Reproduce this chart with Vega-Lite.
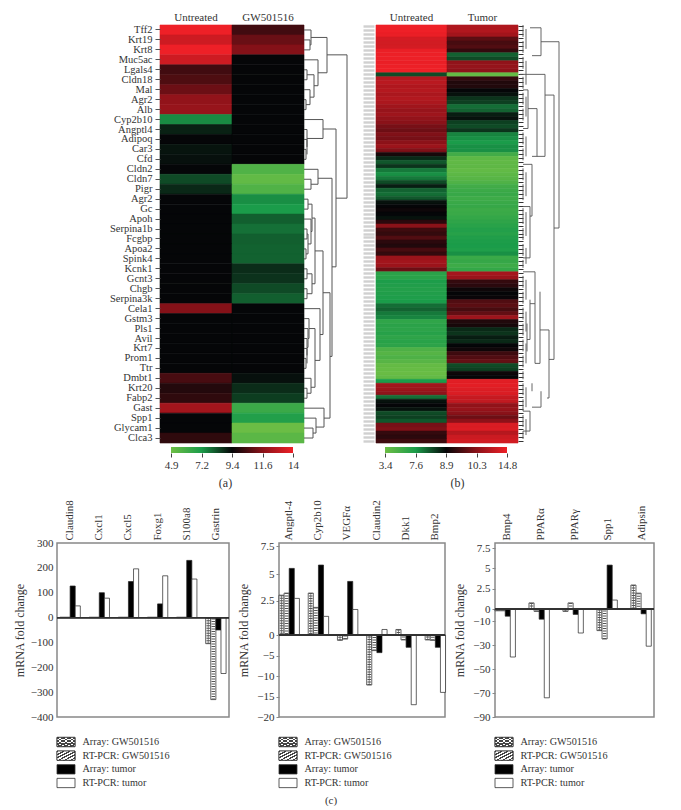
{"$schema":"https://vega.github.io/schema/vega-lite/v6.json","padding":{"left":0,"top":11,"right":0,"bottom":0},"background":"white",
"config":{"view":{"stroke":null},"axis":{"labelFont":"Liberation Serif","titleFont":"Liberation Serif","labelColor":"#333","titleColor":"#333","labelFontSize":11,"titleFontSize":12,"titleFontWeight":"normal","grid":false,"labelOverlap":false},"title":{"font":"Liberation Serif","fontSize":11,"fontWeight":"normal","color":"#333"}},
"datasets":{
"heatA":[
{"g":"Tff2","c":"Untreated","v":14},{"g":"Tff2","c":"GW501516","v":10.4},{"g":"Krt19","c":"Untreated","v":13.2},{"g":"Krt19","c":"GW501516","v":11.05},{"g":"Krt8","c":"Untreated","v":14},{"g":"Krt8","c":"GW501516","v":11.5},{"g":"Muc5ac","c":"Untreated","v":13.2},{"g":"Muc5ac","c":"GW501516","v":9.4},{"g":"Lgals4","c":"Untreated","v":10.4},{"g":"Lgals4","c":"GW501516","v":9.4},{"g":"Cldn18","c":"Untreated","v":10.6},{"g":"Cldn18","c":"GW501516","v":9.4},{"g":"Mal","c":"Untreated","v":11.1},{"g":"Mal","c":"GW501516","v":9.4},{"g":"Agr2","c":"Untreated","v":11.8},{"g":"Agr2","c":"GW501516","v":9.4},{"g":"Alb","c":"Untreated","v":11.9},{"g":"Alb","c":"GW501516","v":9.4},{"g":"Cyp2b10","c":"Untreated","v":7.45},{"g":"Cyp2b10","c":"GW501516","v":9.4},{"g":"Angptl4","c":"Untreated","v":9},{"g":"Angptl4","c":"GW501516","v":9.4},{"g":"Adipoq","c":"Untreated","v":9.4},{"g":"Adipoq","c":"GW501516","v":9.4},{"g":"Car3","c":"Untreated","v":9.2},{"g":"Car3","c":"GW501516","v":9.4},{"g":"Cfd","c":"Untreated","v":9.25},{"g":"Cfd","c":"GW501516","v":9.4},{"g":"Cldn2","c":"Untreated","v":9.4},{"g":"Cldn2","c":"GW501516","v":5.7},{"g":"Cldn7","c":"Untreated","v":8.4},{"g":"Cldn7","c":"GW501516","v":5.2},{"g":"Pigr","c":"Untreated","v":8.9},{"g":"Pigr","c":"GW501516","v":5.7},{"g":"Agr2 ","c":"Untreated","v":9.4},{"g":"Agr2 ","c":"GW501516","v":7.4},{"g":"Gc","c":"Untreated","v":9.4},{"g":"Gc","c":"GW501516","v":7.2},{"g":"Apoh","c":"Untreated","v":9.4},{"g":"Apoh","c":"GW501516","v":8.1},{"g":"Serpina1b","c":"Untreated","v":9.4},{"g":"Serpina1b","c":"GW501516","v":7.85},{"g":"Fcgbp","c":"Untreated","v":9.4},{"g":"Fcgbp","c":"GW501516","v":8.1},{"g":"Apoa2","c":"Untreated","v":9.4},{"g":"Apoa2","c":"GW501516","v":8.05},{"g":"Spink4","c":"Untreated","v":9.4},{"g":"Spink4","c":"GW501516","v":8.05},{"g":"Kcnk1","c":"Untreated","v":9.4},{"g":"Kcnk1","c":"GW501516","v":8.85},{"g":"Gcnt3","c":"Untreated","v":9.4},{"g":"Gcnt3","c":"GW501516","v":8.75},{"g":"Chgb","c":"Untreated","v":9.4},{"g":"Chgb","c":"GW501516","v":8.4},{"g":"Serpina3k","c":"Untreated","v":9.4},{"g":"Serpina3k","c":"GW501516","v":8.1},{"g":"Cela1","c":"Untreated","v":11.5},{"g":"Cela1","c":"GW501516","v":9.4},{"g":"Gstm3","c":"Untreated","v":9.4},{"g":"Gstm3","c":"GW501516","v":9.4},{"g":"Pls1","c":"Untreated","v":9.4},{"g":"Pls1","c":"GW501516","v":9.4},{"g":"Avil","c":"Untreated","v":9.4},{"g":"Avil","c":"GW501516","v":9.4},{"g":"Krt7","c":"Untreated","v":9.4},{"g":"Krt7","c":"GW501516","v":9.4},{"g":"Prom1","c":"Untreated","v":9.4},{"g":"Prom1","c":"GW501516","v":9.4},{"g":"Ttr","c":"Untreated","v":9.4},{"g":"Ttr","c":"GW501516","v":9.4},{"g":"Dmbt1","c":"Untreated","v":10.5},{"g":"Dmbt1","c":"GW501516","v":9.25},{"g":"Krt20","c":"Untreated","v":9.9},{"g":"Krt20","c":"GW501516","v":8.85},{"g":"Fabp2","c":"Untreated","v":10.1},{"g":"Fabp2","c":"GW501516","v":8.6},{"g":"Gast","c":"Untreated","v":12.2},{"g":"Gast","c":"GW501516","v":6.3},{"g":"Spp1","c":"Untreated","v":9.4},{"g":"Spp1","c":"GW501516","v":7},{"g":"Glycam1","c":"Untreated","v":9.4},{"g":"Glycam1","c":"GW501516","v":4.95},{"g":"Clca3","c":"Untreated","v":10.1},{"g":"Clca3","c":"GW501516","v":5.4}],
"heatB":[
{"r":0,"c":"Untreated","v":14.8},{"r":0,"c":"Tumor","v":11.9},{"r":1,"c":"Untreated","v":14.8},{"r":1,"c":"Tumor","v":12},{"r":2,"c":"Untreated","v":14.6},{"r":2,"c":"Tumor","v":11.4},{"r":3,"c":"Untreated","v":13.6},{"r":3,"c":"Tumor","v":9.8},{"r":4,"c":"Untreated","v":13.5},{"r":4,"c":"Tumor","v":9.6},{"r":5,"c":"Untreated","v":13.6},{"r":5,"c":"Tumor","v":9.7},{"r":6,"c":"Untreated","v":14.6},{"r":6,"c":"Tumor","v":9.4},{"r":7,"c":"Untreated","v":14.7},{"r":7,"c":"Tumor","v":8.1},{"r":8,"c":"Untreated","v":14.7},{"r":8,"c":"Tumor","v":8.3},{"r":9,"c":"Untreated","v":14.6},{"r":9,"c":"Tumor","v":10.6},
{"r":10,"c":"Untreated","v":14.7},{"r":10,"c":"Tumor","v":10.8},{"r":11,"c":"Untreated","v":14.8},{"r":11,"c":"Tumor","v":10.5},{"r":12,"c":"Untreated","v":8.3},{"r":12,"c":"Tumor","v":3.8},{"r":13,"c":"Untreated","v":12.2},{"r":13,"c":"Tumor","v":9.4},{"r":14,"c":"Untreated","v":12.4},{"r":14,"c":"Tumor","v":9.2},{"r":15,"c":"Untreated","v":12},{"r":15,"c":"Tumor","v":9.2},{"r":16,"c":"Untreated","v":12.2},{"r":16,"c":"Tumor","v":8.9},{"r":17,"c":"Untreated","v":11.8},{"r":17,"c":"Tumor","v":8.8},{"r":18,"c":"Untreated","v":12.1},{"r":18,"c":"Tumor","v":8.5},{"r":19,"c":"Untreated","v":11.8},{"r":19,"c":"Tumor","v":8.4},
{"r":20,"c":"Untreated","v":11.3},{"r":20,"c":"Tumor","v":8},{"r":21,"c":"Untreated","v":10.9},{"r":21,"c":"Tumor","v":8.1},{"r":22,"c":"Untreated","v":11.2},{"r":22,"c":"Tumor","v":8.7},{"r":23,"c":"Untreated","v":10.7},{"r":23,"c":"Tumor","v":8.8},{"r":24,"c":"Untreated","v":10.3},{"r":24,"c":"Tumor","v":8.4},{"r":25,"c":"Untreated","v":10.1},{"r":25,"c":"Tumor","v":8.3},{"r":26,"c":"Untreated","v":10},{"r":26,"c":"Tumor","v":8.5},{"r":27,"c":"Untreated","v":10.2},{"r":27,"c":"Tumor","v":7.8},{"r":28,"c":"Untreated","v":10.1},{"r":28,"c":"Tumor","v":7.7},{"r":29,"c":"Untreated","v":10.4},{"r":29,"c":"Tumor","v":7.6},
{"r":30,"c":"Untreated","v":11.1},{"r":30,"c":"Tumor","v":7.7},{"r":31,"c":"Untreated","v":10.2},{"r":31,"c":"Tumor","v":7.7},{"r":32,"c":"Untreated","v":9.1},{"r":32,"c":"Tumor","v":5.6},{"r":33,"c":"Untreated","v":8.6},{"r":33,"c":"Tumor","v":4.2},{"r":34,"c":"Untreated","v":8.2},{"r":34,"c":"Tumor","v":4},{"r":35,"c":"Untreated","v":8.5},{"r":35,"c":"Tumor","v":4.1},{"r":36,"c":"Untreated","v":7.9},{"r":36,"c":"Tumor","v":3.9},{"r":37,"c":"Untreated","v":7.7},{"r":37,"c":"Tumor","v":4.2},{"r":38,"c":"Untreated","v":7.9},{"r":38,"c":"Tumor","v":4.5},{"r":39,"c":"Untreated","v":8.3},{"r":39,"c":"Tumor","v":4.9},
{"r":40,"c":"Untreated","v":8.7},{"r":40,"c":"Tumor","v":5.6},{"r":41,"c":"Untreated","v":8.1},{"r":41,"c":"Tumor","v":5.9},{"r":42,"c":"Untreated","v":8},{"r":42,"c":"Tumor","v":6.1},{"r":43,"c":"Untreated","v":8.2},{"r":43,"c":"Tumor","v":5.8},{"r":44,"c":"Untreated","v":8.8},{"r":44,"c":"Tumor","v":6},{"r":45,"c":"Untreated","v":8.9},{"r":45,"c":"Tumor","v":6.2},{"r":46,"c":"Untreated","v":9},{"r":46,"c":"Tumor","v":5.9},{"r":47,"c":"Untreated","v":8.9},{"r":47,"c":"Tumor","v":6},{"r":48,"c":"Untreated","v":8.8},{"r":48,"c":"Tumor","v":6.3},{"r":49,"c":"Untreated","v":9.3},{"r":49,"c":"Tumor","v":6.6},
{"r":50,"c":"Untreated","v":10.3},{"r":50,"c":"Tumor","v":6.9},{"r":51,"c":"Untreated","v":9.5},{"r":51,"c":"Tumor","v":7.2},{"r":52,"c":"Untreated","v":9.4},{"r":52,"c":"Tumor","v":7},{"r":53,"c":"Untreated","v":9.7},{"r":53,"c":"Tumor","v":7.3},{"r":54,"c":"Untreated","v":9.3},{"r":54,"c":"Tumor","v":7.5},{"r":55,"c":"Untreated","v":9.2},{"r":55,"c":"Tumor","v":7.6},{"r":56,"c":"Untreated","v":9.6},{"r":56,"c":"Tumor","v":7.4},{"r":57,"c":"Untreated","v":9.4},{"r":57,"c":"Tumor","v":7.7},{"r":58,"c":"Untreated","v":11},{"r":58,"c":"Tumor","v":6},{"r":59,"c":"Untreated","v":11.4},{"r":59,"c":"Tumor","v":6.2},
{"r":60,"c":"Untreated","v":11.1},{"r":60,"c":"Tumor","v":5.8},{"r":61,"c":"Untreated","v":10},{"r":61,"c":"Tumor","v":6.3},{"r":62,"c":"Untreated","v":6.8},{"r":62,"c":"Tumor","v":11.5},{"r":63,"c":"Untreated","v":6.9},{"r":63,"c":"Tumor","v":11},{"r":64,"c":"Untreated","v":7.5},{"r":64,"c":"Tumor","v":9.4},{"r":65,"c":"Untreated","v":7.3},{"r":65,"c":"Tumor","v":9.3},{"r":66,"c":"Untreated","v":7.2},{"r":66,"c":"Tumor","v":9},{"r":67,"c":"Untreated","v":7.3},{"r":67,"c":"Tumor","v":8.9},{"r":68,"c":"Untreated","v":7.4},{"r":68,"c":"Tumor","v":8.95},{"r":69,"c":"Untreated","v":7.6},{"r":69,"c":"Tumor","v":9.7},
{"r":70,"c":"Untreated","v":8},{"r":70,"c":"Tumor","v":9.8},{"r":71,"c":"Untreated","v":8.1},{"r":71,"c":"Tumor","v":9.6},{"r":72,"c":"Untreated","v":7.9},{"r":72,"c":"Tumor","v":9.9},{"r":73,"c":"Untreated","v":7.8},{"r":73,"c":"Tumor","v":11.2},{"r":74,"c":"Untreated","v":6.5},{"r":74,"c":"Tumor","v":9.2},{"r":75,"c":"Untreated","v":6.8},{"r":75,"c":"Tumor","v":9.1},{"r":76,"c":"Untreated","v":6.7},{"r":76,"c":"Tumor","v":8.6},{"r":77,"c":"Untreated","v":7},{"r":77,"c":"Tumor","v":8.5},{"r":78,"c":"Untreated","v":6.6},{"r":78,"c":"Tumor","v":8.7},{"r":79,"c":"Untreated","v":6.9},{"r":79,"c":"Tumor","v":8.6},
{"r":80,"c":"Untreated","v":6.7},{"r":80,"c":"Tumor","v":8.9},{"r":81,"c":"Untreated","v":5},{"r":81,"c":"Tumor","v":9},{"r":82,"c":"Untreated","v":4.6},{"r":82,"c":"Tumor","v":9.5},{"r":83,"c":"Untreated","v":5},{"r":83,"c":"Tumor","v":9.7},{"r":84,"c":"Untreated","v":4.5},{"r":84,"c":"Tumor","v":9.9},{"r":85,"c":"Untreated","v":3.8},{"r":85,"c":"Tumor","v":8.3},{"r":86,"c":"Untreated","v":3.7},{"r":86,"c":"Tumor","v":8.4},{"r":87,"c":"Untreated","v":3.6},{"r":87,"c":"Tumor","v":9},{"r":88,"c":"Untreated","v":3.9},{"r":88,"c":"Tumor","v":8.9},{"r":89,"c":"Untreated","v":7.6},{"r":89,"c":"Tumor","v":14.2},
{"r":90,"c":"Untreated","v":11.3},{"r":90,"c":"Tumor","v":14.3},{"r":91,"c":"Untreated","v":11.1},{"r":91,"c":"Tumor","v":14},{"r":92,"c":"Untreated","v":10.5},{"r":92,"c":"Tumor","v":13.9},{"r":93,"c":"Untreated","v":8},{"r":93,"c":"Tumor","v":13},{"r":94,"c":"Untreated","v":8.8},{"r":94,"c":"Tumor","v":12.8},{"r":95,"c":"Untreated","v":8.9},{"r":95,"c":"Tumor","v":10.6},{"r":96,"c":"Untreated","v":8.8},{"r":96,"c":"Tumor","v":10.9},{"r":97,"c":"Untreated","v":8.3},{"r":97,"c":"Tumor","v":10.3},{"r":98,"c":"Untreated","v":8.4},{"r":98,"c":"Tumor","v":10},{"r":99,"c":"Untreated","v":8.2},{"r":99,"c":"Tumor","v":10.4},
{"r":100,"c":"Untreated","v":10.1},{"r":100,"c":"Tumor","v":13.8},{"r":101,"c":"Untreated","v":10.2},{"r":101,"c":"Tumor","v":13.9},{"r":102,"c":"Untreated","v":9.4},{"r":102,"c":"Tumor","v":12.3},{"r":103,"c":"Untreated","v":9.3},{"r":103,"c":"Tumor","v":13.2},{"r":104,"c":"Untreated","v":9.5},{"r":104,"c":"Tumor","v":13.5}],
"dendA":[
{"x0":0,"x1":6,"y0":1.5,"y1":1.5},{"x0":0,"x1":6,"y0":2.5,"y1":2.5},{"x0":6,"x1":6,"y0":1.5,"y1":2.5},{"x0":0,"x1":7,"y0":0.5,"y1":0.5},{"x0":6,"x1":7,"y0":2,"y1":2},{"x0":7,"x1":7,"y0":0.5,"y1":2},{"x0":0,"x1":3,"y0":4.5,"y1":4.5},{"x0":0,"x1":3,"y0":5.5,"y1":5.5},{"x0":3,"x1":3,"y0":4.5,"y1":5.5},{"x0":0,"x1":2,"y0":7.5,"y1":7.5},{"x0":0,"x1":2,"y0":8.5,"y1":8.5},{"x0":2,"x1":2,"y0":7.5,"y1":8.5},{"x0":0,"x1":6,"y0":6.5,"y1":6.5},{"x0":2,"x1":6,"y0":8,"y1":8},{"x0":6,"x1":6,"y0":6.5,"y1":8},{"x0":3,"x1":10,"y0":5,"y1":5},{"x0":6,"x1":10,"y0":7.25,"y1":7.25},{"x0":10,"x1":10,"y0":5,"y1":7.25},{"x0":0,"x1":14,"y0":3.5,"y1":3.5},{"x0":10,"x1":14,"y0":6.1,"y1":6.1},{"x0":14,"x1":14,"y0":3.5,"y1":6.1},{"x0":7,"x1":23,"y0":1.25,"y1":1.25},{"x0":14,"x1":23,"y0":4.8,"y1":4.8},{"x0":23,"x1":23,"y0":1.25,"y1":4.8},
{"x0":0,"x1":2,"y0":12.5,"y1":12.5},{"x0":0,"x1":2,"y0":13.5,"y1":13.5},{"x0":2,"x1":2,"y0":12.5,"y1":13.5},{"x0":0,"x1":3,"y0":11.5,"y1":11.5},{"x0":3,"x1":3,"y0":11.5,"y1":13},{"x0":0,"x1":3,"y0":10.5,"y1":10.5},{"x0":3,"x1":3,"y0":10.5,"y1":12.25},{"x0":0,"x1":19,"y0":9.5,"y1":9.5},{"x0":3,"x1":19,"y0":11.4,"y1":11.4},{"x0":19,"x1":19,"y0":9.5,"y1":11.4},
{"x0":23,"x1":43,"y0":3,"y1":3},{"x0":32,"x1":43,"y0":17.4,"y1":17.4},{"x0":43,"x1":43,"y0":3,"y1":17.4},{"x0":19,"x1":32,"y0":10.45,"y1":10.45},{"x0":28,"x1":32,"y0":24.3,"y1":24.3},{"x0":32,"x1":32,"y0":10.45,"y1":24.3},
{"x0":0,"x1":7,"y0":15.5,"y1":15.5},{"x0":0,"x1":7,"y0":16.5,"y1":16.5},{"x0":7,"x1":7,"y0":15.5,"y1":16.5},{"x0":0,"x1":14,"y0":14.5,"y1":14.5},{"x0":7,"x1":14,"y0":16,"y1":16},{"x0":14,"x1":14,"y0":14.5,"y1":16},{"x0":14,"x1":28,"y0":15.4,"y1":15.4},{"x0":26,"x1":28,"y0":33.3,"y1":33.3},{"x0":28,"x1":28,"y0":15.4,"y1":33.3},
{"x0":0,"x1":4,"y0":17.5,"y1":17.5},{"x0":0,"x1":4,"y0":18.5,"y1":18.5},{"x0":4,"x1":4,"y0":17.5,"y1":18.5},{"x0":0,"x1":3,"y0":20.5,"y1":20.5},{"x0":0,"x1":3,"y0":21.5,"y1":21.5},{"x0":3,"x1":3,"y0":20.5,"y1":21.5},{"x0":0,"x1":2,"y0":22.5,"y1":22.5},{"x0":0,"x1":2,"y0":23.5,"y1":23.5},{"x0":2,"x1":2,"y0":22.5,"y1":23.5},{"x0":3,"x1":4,"y0":21,"y1":21},{"x0":2,"x1":4,"y0":23,"y1":23},{"x0":4,"x1":4,"y0":21,"y1":23},{"x0":0,"x1":7,"y0":19.5,"y1":19.5},{"x0":4,"x1":7,"y0":22,"y1":22},{"x0":7,"x1":7,"y0":19.5,"y1":22},{"x0":4,"x1":8,"y0":18,"y1":18},{"x0":7,"x1":8,"y0":20.75,"y1":20.75},{"x0":8,"x1":8,"y0":18,"y1":20.75},
{"x0":0,"x1":3,"y0":24.5,"y1":24.5},{"x0":0,"x1":3,"y0":25.5,"y1":25.5},{"x0":3,"x1":3,"y0":24.5,"y1":25.5},{"x0":0,"x1":3,"y0":26.5,"y1":26.5},{"x0":0,"x1":3,"y0":27.5,"y1":27.5},{"x0":3,"x1":3,"y0":26.5,"y1":27.5},{"x0":3,"x1":8,"y0":25,"y1":25},{"x0":3,"x1":8,"y0":27,"y1":27},{"x0":8,"x1":8,"y0":25,"y1":27},{"x0":8,"x1":11,"y0":19.4,"y1":19.4},{"x0":8,"x1":11,"y0":26,"y1":26},{"x0":11,"x1":11,"y0":19.4,"y1":26},{"x0":11,"x1":19,"y0":22.7,"y1":22.7},{"x0":16,"x1":19,"y0":31.1,"y1":31.1},{"x0":19,"x1":26,"y0":26.9,"y1":26.9},{"x0":19,"x1":19,"y0":22.7,"y1":31.1},{"x0":26,"x1":26,"y0":26.9,"y1":39.5},
{"x0":0,"x1":16,"y0":28.5,"y1":28.5},{"x0":11,"x1":16,"y0":33.7,"y1":33.7},{"x0":16,"x1":16,"y0":28.5,"y1":33.7},{"x0":0,"x1":2,"y0":33.5,"y1":33.5},{"x0":0,"x1":2,"y0":34.5,"y1":34.5},{"x0":2,"x1":2,"y0":33.5,"y1":34.5},{"x0":0,"x1":3,"y0":32.5,"y1":32.5},{"x0":3,"x1":3,"y0":32.5,"y1":34},{"x0":0,"x1":3,"y0":31.5,"y1":31.5},{"x0":3,"x1":3,"y0":31.5,"y1":33.2},{"x0":0,"x1":4,"y0":30.5,"y1":30.5},{"x0":3,"x1":4,"y0":32.4,"y1":32.4},{"x0":4,"x1":4,"y0":30.5,"y1":32.4},{"x0":0,"x1":5,"y0":29.5,"y1":29.5},{"x0":4,"x1":5,"y0":31.5,"y1":31.5},{"x0":5,"x1":5,"y0":29.5,"y1":31.5},{"x0":5,"x1":11,"y0":30.5,"y1":30.5},{"x0":7,"x1":11,"y0":36.4,"y1":36.4},{"x0":11,"x1":11,"y0":30.5,"y1":36.4},
{"x0":0,"x1":3,"y0":36.5,"y1":36.5},{"x0":0,"x1":3,"y0":37.5,"y1":37.5},{"x0":3,"x1":3,"y0":36.5,"y1":37.5},{"x0":0,"x1":7,"y0":35.5,"y1":35.5},{"x0":3,"x1":7,"y0":37,"y1":37},{"x0":7,"x1":7,"y0":35.5,"y1":37},{"x0":0,"x1":9,"y0":40.5,"y1":40.5},{"x0":0,"x1":9,"y0":41.5,"y1":41.5},{"x0":9,"x1":9,"y0":40.5,"y1":41.5},{"x0":0,"x1":12,"y0":39.5,"y1":39.5},{"x0":9,"x1":12,"y0":41,"y1":41},{"x0":12,"x1":12,"y0":39.5,"y1":41},{"x0":0,"x1":20,"y0":38.5,"y1":38.5},{"x0":12,"x1":20,"y0":40.4,"y1":40.4},{"x0":20,"x1":20,"y0":38.5,"y1":40.4},{"x0":20,"x1":26,"y0":39.5,"y1":39.5}],
"dendB":[
{"x0":12,"x1":23,"y0":0.7,"y1":0.7},{"x0":14,"x1":23,"y0":7.7,"y1":7.7},{"x0":23,"x1":23,"y0":0.7,"y1":7.7},{"x0":23,"x1":41,"y0":4.2,"y1":4.2},{"x0":36,"x1":41,"y0":51,"y1":51},{"x0":41,"x1":41,"y0":4.2,"y1":51},{"x0":36,"x1":36,"y0":17.6,"y1":84},{"x0":27,"x1":36,"y0":17.6,"y1":17.6},{"x0":31,"x1":36,"y0":84,"y1":84},{"x0":27,"x1":27,"y0":12.4,"y1":33},{"x0":2,"x1":27,"y0":12.4,"y1":12.4},{"x0":19,"x1":27,"y0":33,"y1":33},{"x0":19,"x1":19,"y0":21,"y1":33},{"x0":10,"x1":19,"y0":21,"y1":21},{"x0":14,"x1":19,"y0":33,"y1":33},{"x0":10,"x1":10,"y0":16.3,"y1":26},{"x0":5,"x1":10,"y0":16.3,"y1":16.3},{"x0":5,"x1":10,"y0":26,"y1":26},{"x0":14,"x1":14,"y0":35,"y1":48},{"x0":5,"x1":14,"y0":35,"y1":35},{"x0":12,"x1":14,"y0":48,"y1":48},{"x0":12,"x1":12,"y0":45.6,"y1":58.5},{"x0":5,"x1":12,"y0":45.6,"y1":45.6},{"x0":5,"x1":12,"y0":58.5,"y1":58.5},{"x0":31,"x1":31,"y0":76.6,"y1":93.7},{"x0":22,"x1":31,"y0":76.6,"y1":76.6},{"x0":29,"x1":31,"y0":93.7,"y1":93.7},{"x0":22,"x1":22,"y0":67,"y1":85},{"x0":17,"x1":22,"y0":85,"y1":85},{"x0":17,"x1":17,"y0":62,"y1":85},{"x0":5,"x1":17,"y0":62,"y1":62},{"x0":12,"x1":17,"y0":70,"y1":70},{"x0":12,"x1":12,"y0":69,"y1":79},{"x0":9,"x1":12,"y0":79,"y1":79},{"x0":9,"x1":9,"y0":75,"y1":82},{"x0":23,"x1":23,"y0":92,"y1":96},{"x0":14,"x1":23,"y0":96,"y1":96},{"x0":14,"x1":14,"y0":90,"y1":92},{"x0":12,"x1":12,"y0":97,"y1":102},{"x0":5,"x1":12,"y0":97,"y1":97},{"x0":5,"x1":12,"y0":102,"y1":102},
{"x0":5,"x1":5,"y0":0,"y1":3},{"x0":5,"x1":5,"y0":4,"y1":7},{"x0":5,"x1":5,"y0":8,"y1":11},{"x0":5,"x1":5,"y0":13,"y1":16},{"x0":5,"x1":5,"y0":17,"y1":20},{"x0":5,"x1":5,"y0":21,"y1":24},{"x0":5,"x1":5,"y0":27,"y1":30},{"x0":5,"x1":5,"y0":31,"y1":34},{"x0":5,"x1":5,"y0":36,"y1":39},{"x0":5,"x1":5,"y0":40,"y1":44},{"x0":5,"x1":5,"y0":46,"y1":50},{"x0":5,"x1":5,"y0":51,"y1":54},{"x0":5,"x1":5,"y0":55,"y1":58},{"x0":5,"x1":5,"y0":59,"y1":61},{"x0":5,"x1":5,"y0":63,"y1":66},{"x0":5,"x1":5,"y0":67,"y1":70},{"x0":5,"x1":5,"y0":71,"y1":74},{"x0":5,"x1":5,"y0":75,"y1":78},{"x0":5,"x1":5,"y0":79,"y1":82},{"x0":5,"x1":5,"y0":83,"y1":86},{"x0":5,"x1":5,"y0":87,"y1":89},{"x0":5,"x1":5,"y0":90,"y1":93},{"x0":5,"x1":5,"y0":94,"y1":97},{"x0":5,"x1":5,"y0":98,"y1":101},{"x0":5,"x1":5,"y0":102,"y1":104},
{"x0":8,"x1":8,"y0":1,"y1":6},{"x0":8,"x1":8,"y0":9,"y1":15},{"x0":8,"x1":8,"y0":18,"y1":23},{"x0":8,"x1":8,"y0":28,"y1":33},{"x0":8,"x1":8,"y0":37,"y1":43},{"x0":8,"x1":8,"y0":47,"y1":53},{"x0":8,"x1":8,"y0":56,"y1":60},{"x0":8,"x1":8,"y0":64,"y1":69},{"x0":8,"x1":8,"y0":72,"y1":77},{"x0":8,"x1":8,"y0":80,"y1":85},{"x0":8,"x1":8,"y0":91,"y1":96},{"x0":8,"x1":8,"y0":99,"y1":103}],
"stripA":[{"lo":4.9,"hi":14}],"stripB":[{"lo":3.4,"hi":14.8}],
"keys":[{"series":"Array: GW501516"},{"series":"RT-PCR: GW501516"},{"series":"Array: tumor"},{"series":"RT-PCR: tumor"}],
"bars1":[
{"gene":"Claudin8","series":"Array: GW501516","v":1.5},{"gene":"Claudin8","series":"RT-PCR: GW501516","v":1.5},{"gene":"Claudin8","series":"Array: tumor","v":127},{"gene":"Claudin8","series":"RT-PCR: tumor","v":47},
{"gene":"Cxcl1","series":"Array: GW501516","v":1.5},{"gene":"Cxcl1","series":"RT-PCR: GW501516","v":1.5},{"gene":"Cxcl1","series":"Array: tumor","v":100},{"gene":"Cxcl1","series":"RT-PCR: tumor","v":78},
{"gene":"Cxcl5","series":"Array: GW501516","v":1.5},{"gene":"Cxcl5","series":"RT-PCR: GW501516","v":1.5},{"gene":"Cxcl5","series":"Array: tumor","v":145},{"gene":"Cxcl5","series":"RT-PCR: tumor","v":196},
{"gene":"Foxg1","series":"Array: GW501516","v":1.5},{"gene":"Foxg1","series":"RT-PCR: GW501516","v":1.5},{"gene":"Foxg1","series":"Array: tumor","v":55},{"gene":"Foxg1","series":"RT-PCR: tumor","v":168},
{"gene":"S100a8","series":"Array: GW501516","v":1.5},{"gene":"S100a8","series":"RT-PCR: GW501516","v":1.5},{"gene":"S100a8","series":"Array: tumor","v":230},{"gene":"S100a8","series":"RT-PCR: tumor","v":155},
{"gene":"Gastrin","series":"Array: GW501516","v":-105},{"gene":"Gastrin","series":"RT-PCR: GW501516","v":-330},{"gene":"Gastrin","series":"Array: tumor","v":-50},{"gene":"Gastrin","series":"RT-PCR: tumor","v":-225}],
"bars2":[
{"gene":"Angptl-4","series":"Array: GW501516","v":3},{"gene":"Angptl-4","series":"RT-PCR: GW501516","v":3.2},{"gene":"Angptl-4","series":"Array: tumor","v":5.5},{"gene":"Angptl-4","series":"RT-PCR: tumor","v":2.7},
{"gene":"Cyp2b10","series":"Array: GW501516","v":3.2},{"gene":"Cyp2b10","series":"RT-PCR: GW501516","v":2},{"gene":"Cyp2b10","series":"Array: tumor","v":5.8},{"gene":"Cyp2b10","series":"RT-PCR: tumor","v":1.35},
{"gene":"VEGFα","series":"Array: GW501516","v":-1.3},{"gene":"VEGFα","series":"RT-PCR: GW501516","v":-1},{"gene":"VEGFα","series":"Array: tumor","v":4.3},{"gene":"VEGFα","series":"RT-PCR: tumor","v":1.85},
{"gene":"Claudin2","series":"Array: GW501516","v":-12.2},{"gene":"Claudin2","series":"RT-PCR: GW501516","v":-3.8},{"gene":"Claudin2","series":"Array: tumor","v":-4.3},{"gene":"Claudin2","series":"RT-PCR: tumor","v":0.4},
{"gene":"Dkk1","series":"Array: GW501516","v":0.4},{"gene":"Dkk1","series":"RT-PCR: GW501516","v":-1.2},{"gene":"Dkk1","series":"Array: tumor","v":-3},{"gene":"Dkk1","series":"RT-PCR: tumor","v":-17},
{"gene":"Bmp2","series":"Array: GW501516","v":-1.2},{"gene":"Bmp2","series":"RT-PCR: GW501516","v":-1.3},{"gene":"Bmp2","series":"Array: tumor","v":-3},{"gene":"Bmp2","series":"RT-PCR: tumor","v":-14}],
"bars3":[
{"gene":"Bmp4","series":"Array: GW501516","v":-1.5},{"gene":"Bmp4","series":"RT-PCR: GW501516","v":-1.5},{"gene":"Bmp4","series":"Array: tumor","v":-6},{"gene":"Bmp4","series":"RT-PCR: tumor","v":-40},
{"gene":"PPARα","series":"Array: GW501516","v":0.75},{"gene":"PPARα","series":"RT-PCR: GW501516","v":-2},{"gene":"PPARα","series":"Array: tumor","v":-8.5},{"gene":"PPARα","series":"RT-PCR: tumor","v":-74},
{"gene":"PPARγ","series":"Array: GW501516","v":-2},{"gene":"PPARγ","series":"RT-PCR: GW501516","v":0.75},{"gene":"PPARγ","series":"Array: tumor","v":-4.5},{"gene":"PPARγ","series":"RT-PCR: tumor","v":-20},
{"gene":"Spp1","series":"Array: GW501516","v":-18},{"gene":"Spp1","series":"RT-PCR: GW501516","v":-25},{"gene":"Spp1","series":"Array: tumor","v":5.4},{"gene":"Spp1","series":"RT-PCR: tumor","v":1.1},
{"gene":"Adipsin","series":"Array: GW501516","v":2.95},{"gene":"Adipsin","series":"RT-PCR: GW501516","v":1.95},{"gene":"Adipsin","series":"Array: tumor","v":-4},{"gene":"Adipsin","series":"RT-PCR: tumor","v":-31}]
},
"spacing":10,
"resolve":{"scale":{"color":"independent","stroke":"independent"}},
"vconcat":[
{"columns":5,"bounds":"flush","spacing":{"row":4,"column":0},"resolve":{"scale":{"color":"independent","stroke":"independent"}},"concat":[
{"width":160,"height":418,"data":{"name":"keys"},"mark":{"type":"point","opacity":0},"encoding":{}},
{"width":144,"height":418,"data":{"name":"heatA"},"mark":{"type":"rect","strokeWidth":0.6},"encoding":{
"x":{"field":"c","type":"nominal","sort":null,"scale":{"domain":["Untreated","GW501516"]},"axis":{"orient":"top","title":null,"labelAngle":0,"ticks":false,"domain":false,"labelPadding":3}},
"y":{"field":"g","type":"nominal","sort":null,"axis":{"title":null,"domain":false,"tickSize":5,"tickColor":"#555","labelPadding":3,"labelFontSize":10.5}},
"color":{"field":"v","type":"quantitative","legend":null,"scale":{"interpolate":"rgb","domain":[4.9,7.2,9.4,11.6,14],"range":["#6dbe45","#1b9c4a","#050608","#8a1219","#ee2027"]}},
"stroke":{"field":"v","type":"quantitative","legend":null,"scale":{"interpolate":"rgb","domain":[4.9,7.2,9.4,11.6,14],"range":["#6dbe45","#1b9c4a","#050608","#8a1219","#ee2027"]}}}},
{"width":72,"height":418,"data":{"name":"dendA"},"mark":{"type":"rule","color":"#555","strokeWidth":1},"encoding":{
"x":{"field":"x0","type":"quantitative","axis":null,"scale":{"domain":[0,72],"nice":false}},"x2":{"field":"x1"},
"y":{"field":"y0","type":"quantitative","axis":null,"scale":{"domain":[0,42],"reverse":true,"nice":false}},"y2":{"field":"y1"}}},
{"width":142,"height":418,"data":{"name":"heatB"},"resolve":{"axis":{"y":"independent"}},"layer":[
{"mark":{"type":"rect","strokeWidth":0.6},"encoding":{
"x":{"field":"c","type":"nominal","sort":null,"scale":{"domain":["Untreated","Tumor"]},"axis":{"orient":"top","title":null,"labelAngle":0,"ticks":false,"domain":false,"labelPadding":3}},
"y":{"field":"r","type":"ordinal","axis":{"title":null,"labels":false,"domain":false,"tickSize":11,"tickWidth":2.4,"tickColor":"#d0d0d0","offset":2}},
"color":{"field":"v","type":"quantitative","legend":null,"scale":{"interpolate":"rgb","domain":[3.4,7.6,8.9,10.3,14.8],"range":["#6dbe45","#1b9c4a","#050608","#8a1219","#ee2027"]}},
"stroke":{"field":"v","type":"quantitative","legend":null,"scale":{"interpolate":"rgb","domain":[3.4,7.6,8.9,10.3,14.8],"range":["#6dbe45","#1b9c4a","#050608","#8a1219","#ee2027"]}}}},
{"mark":{"type":"rect","opacity":0},"encoding":{
"x":{"field":"c","type":"nominal","sort":null,"scale":{"domain":["Untreated","Tumor"]}},
"y":{"field":"r","type":"ordinal","axis":{"orient":"right","title":null,"labels":false,"domain":false,"tickSize":5,"tickWidth":1,"tickColor":"#333"}}}}]},
{"width":42,"height":418,"data":{"name":"dendB"},"mark":{"type":"rule","color":"#555","strokeWidth":0.9},"encoding":{
"x":{"field":"x0","type":"quantitative","axis":null,"scale":{"domain":[0,42],"nice":false}},"x2":{"field":"x1"},
"y":{"field":"y0","type":"quantitative","axis":null,"scale":{"domain":[0,105],"reverse":true,"nice":false}},"y2":{"field":"y1"}}},
{"width":160,"height":6,"data":{"name":"keys"},"mark":{"type":"point","opacity":0},"encoding":{}},
{"width":144,"height":6,"data":{"name":"stripA"},"mark":{"type":"rect","color":{"gradient":"linear","x1":0,"y1":0,"x2":1,"y2":0,"stops":[{"offset":0,"color":"#6dbe45"},{"offset":0.25,"color":"#1b9c4a"},{"offset":0.5,"color":"#050608"},{"offset":0.75,"color":"#8a1219"},{"offset":1,"color":"#ee2027"}]}},"encoding":{
"x":{"field":"lo","type":"quantitative","scale":{"domain":[4.9,7.2,9.4,11.6,14],"range":[11,41.5,72,102.5,133],"zero":false,"nice":false},"axis":{"values":[4.9,7.2,9.4,11.6,14],"labelExpr":"''+datum.value","labelFlush":false,"title":"(a)","titleX":65,"titleY":24,"domain":false,"tickSize":4,"tickColor":"#444","labelPadding":2}},"x2":{"field":"hi"}}},
{"width":72,"height":6,"data":{"name":"keys"},"mark":{"type":"point","opacity":0},"encoding":{}},
{"width":142,"height":6,"data":{"name":"stripB"},"mark":{"type":"rect","color":{"gradient":"linear","x1":0,"y1":0,"x2":1,"y2":0,"stops":[{"offset":0,"color":"#6dbe45"},{"offset":0.25,"color":"#1b9c4a"},{"offset":0.5,"color":"#050608"},{"offset":0.75,"color":"#8a1219"},{"offset":1,"color":"#ee2027"}]}},"encoding":{
"x":{"field":"lo","type":"quantitative","scale":{"domain":[3.4,7.6,8.9,10.3,14.8],"range":[9,39.5,70,100.5,131],"zero":false,"nice":false},"axis":{"values":[3.4,7.6,8.9,10.3,14.8],"labelExpr":"''+datum.value","labelFlush":false,"title":"(b)","titleX":81,"titleY":24,"domain":false,"tickSize":4,"tickColor":"#444","labelPadding":2}},"x2":{"field":"hi"}}}
]},
{"columns":4,"bounds":"flush","spacing":{"row":19,"column":50},"concat":[
{"width":7,"height":174,"data":{"name":"keys"},"mark":{"type":"point","opacity":0},"encoding":{}},
{"width":172,"height":174,"data":{"name":"bars1"},"view":{"stroke":"#888","strokeWidth":1.5},"resolve":{"axis":{"y":"independent"}},"layer":[
{"mark":{"type":"bar","stroke":"#222","strokeWidth":0.7},"encoding":{
"x":{"field":"gene","type":"nominal","sort":null,"scale":{"paddingInner":0.3,"paddingOuter":0.1},"axis":{"orient":"top","title":null,"labelAngle":-90,"ticks":false,"domain":false,"labelPadding":3}},
"xOffset":{"field":"series","sort":null,"scale":{"domain":["Array: GW501516","RT-PCR: GW501516","Array: tumor","RT-PCR: tumor"]}},
"y":{"field":"v","type":"quantitative","scale":{"domain":[-400,300],"nice":false},"axis":{"values":[-400,-300,-200,-100,0,100,200,300],"labelOverlap":false,"labelExpr":"replace(''+datum.value,'-','−')","title":"mRNA fold change","domain":false,"tickSize":0,"labelPadding":4,"titlePadding":4}},"y2":{"datum":0},
"color":{"field":"series","type":"nominal","legend":null,"scale":{"domain":["Array: GW501516","RT-PCR: GW501516","Array: tumor","RT-PCR: tumor"],"range":["#fff","#fff","#000","#fff"]}}}},
{"transform":[{"filter":"indexof(datum.series,'GW501516')>=0"}],"mark":{"type":"rule","strokeWidth":3.6,"strokeDash":[1,1.5],"color":"#555"},"encoding":{
"x":{"field":"gene","type":"nominal","sort":null,"scale":{"paddingInner":0.3,"paddingOuter":0.1}},
"xOffset":{"field":"series","sort":null,"scale":{"domain":["Array: GW501516","RT-PCR: GW501516","Array: tumor","RT-PCR: tumor"]}},
"y":{"field":"v","type":"quantitative","axis":null,"scale":{"domain":[-400,300],"nice":false}},"y2":{"datum":0}}},
{"transform":[{"filter":"datum.series==='Array: GW501516'"}],"mark":{"type":"rule","strokeWidth":0.7,"color":"#555"},"encoding":{
"x":{"field":"gene","type":"nominal","sort":null,"scale":{"paddingInner":0.3,"paddingOuter":0.1}},
"xOffset":{"field":"series","sort":null,"scale":{"domain":["Array: GW501516","RT-PCR: GW501516","Array: tumor","RT-PCR: tumor"]}},
"y":{"field":"v","type":"quantitative","axis":null,"scale":{"domain":[-400,300],"nice":false}},"y2":{"datum":0}}},
{"mark":{"type":"rule","color":"#333","strokeWidth":1},"encoding":{"y":{"datum":0,"type":"quantitative","axis":null,"scale":{"domain":[-400,300],"nice":false}}}}]},
{"width":166,"height":174,"data":{"name":"bars2"},"view":{"stroke":"#888","strokeWidth":1.5},"resolve":{"axis":{"y":"independent"}},"layer":[
{"mark":{"type":"bar","stroke":"#222","strokeWidth":0.7},"encoding":{
"x":{"field":"gene","type":"nominal","sort":null,"scale":{"paddingInner":0.32,"paddingOuter":0},"axis":{"orient":"top","title":null,"labelAngle":-90,"ticks":false,"domain":false,"labelPadding":3}},
"xOffset":{"field":"series","sort":null,"scale":{"domain":["Array: GW501516","RT-PCR: GW501516","Array: tumor","RT-PCR: tumor"]}},
"y":{"field":"v","type":"quantitative","scale":{"domain":[-20,0,2.5,5,7.5,7.77],"range":[174,92,57.5,31,3,0],"nice":false,"zero":false},"axis":{"values":[-20,-15,-10,-5,0,2.5,5,7.5],"labelOverlap":false,"labelExpr":"replace(''+datum.value,'-','−')","title":"mRNA fold change","domain":false,"tickSize":3,"tickColor":"#888","labelPadding":2,"titlePadding":6}},"y2":{"datum":0},
"color":{"field":"series","type":"nominal","legend":null,"scale":{"domain":["Array: GW501516","RT-PCR: GW501516","Array: tumor","RT-PCR: tumor"],"range":["#fff","#fff","#000","#fff"]}}}},
{"transform":[{"filter":"indexof(datum.series,'GW501516')>=0"}],"mark":{"type":"rule","strokeWidth":3.6,"strokeDash":[1,1.5],"color":"#555"},"encoding":{
"x":{"field":"gene","type":"nominal","sort":null,"scale":{"paddingInner":0.32,"paddingOuter":0}},
"xOffset":{"field":"series","sort":null,"scale":{"domain":["Array: GW501516","RT-PCR: GW501516","Array: tumor","RT-PCR: tumor"]}},
"y":{"field":"v","type":"quantitative","axis":null,"scale":{"domain":[-20,0,2.5,5,7.5,7.77],"range":[174,92,57.5,31,3,0],"nice":false,"zero":false}},"y2":{"datum":0}}},
{"transform":[{"filter":"datum.series==='Array: GW501516'"}],"mark":{"type":"rule","strokeWidth":0.7,"color":"#555"},"encoding":{
"x":{"field":"gene","type":"nominal","sort":null,"scale":{"paddingInner":0.32,"paddingOuter":0}},
"xOffset":{"field":"series","sort":null,"scale":{"domain":["Array: GW501516","RT-PCR: GW501516","Array: tumor","RT-PCR: tumor"]}},
"y":{"field":"v","type":"quantitative","axis":null,"scale":{"domain":[-20,0,2.5,5,7.5,7.77],"range":[174,92,57.5,31,3,0],"nice":false,"zero":false}},"y2":{"datum":0}}},
{"mark":{"type":"rule","color":"#333","strokeWidth":1},"encoding":{"y":{"datum":0,"type":"quantitative","axis":null,"scale":{"domain":[-20,0,2.5,5,7.5,7.77],"range":[174,92,57.5,31,3,0],"nice":false,"zero":false}}}}]},
{"width":159,"height":174,"data":{"name":"bars3"},"view":{"stroke":"#888","strokeWidth":1.5},"resolve":{"axis":{"y":"independent"}},"layer":[
{"mark":{"type":"bar","stroke":"#222","strokeWidth":0.7},"encoding":{
"x":{"field":"gene","type":"nominal","sort":null,"scale":{"paddingInner":0.32,"paddingOuter":0},"axis":{"orient":"top","title":null,"labelAngle":-90,"ticks":false,"domain":false,"labelPadding":3}},
"xOffset":{"field":"series","sort":null,"scale":{"domain":["Array: GW501516","RT-PCR: GW501516","Array: tumor","RT-PCR: tumor"]}},
"y":{"field":"v","type":"quantitative","scale":{"domain":[-90,0,8.12],"range":[174,66,0],"nice":false,"zero":false},"axis":{"values":[-90,-70,-50,-30,-10,0,2.5,5,7.5],"labelOverlap":false,"labelExpr":"replace(''+datum.value,'-','−')","title":"mRNA fold change","domain":false,"tickSize":3,"tickColor":"#888","labelPadding":2,"titlePadding":6}},"y2":{"datum":0},
"color":{"field":"series","type":"nominal","legend":null,"scale":{"domain":["Array: GW501516","RT-PCR: GW501516","Array: tumor","RT-PCR: tumor"],"range":["#fff","#fff","#000","#fff"]}}}},
{"transform":[{"filter":"indexof(datum.series,'GW501516')>=0"}],"mark":{"type":"rule","strokeWidth":3.6,"strokeDash":[1,1.5],"color":"#555"},"encoding":{
"x":{"field":"gene","type":"nominal","sort":null,"scale":{"paddingInner":0.32,"paddingOuter":0}},
"xOffset":{"field":"series","sort":null,"scale":{"domain":["Array: GW501516","RT-PCR: GW501516","Array: tumor","RT-PCR: tumor"]}},
"y":{"field":"v","type":"quantitative","axis":null,"scale":{"domain":[-90,0,8.12],"range":[174,66,0],"nice":false,"zero":false}},"y2":{"datum":0}}},
{"transform":[{"filter":"datum.series==='Array: GW501516'"}],"mark":{"type":"rule","strokeWidth":0.7,"color":"#555"},"encoding":{
"x":{"field":"gene","type":"nominal","sort":null,"scale":{"paddingInner":0.32,"paddingOuter":0}},
"xOffset":{"field":"series","sort":null,"scale":{"domain":["Array: GW501516","RT-PCR: GW501516","Array: tumor","RT-PCR: tumor"]}},
"y":{"field":"v","type":"quantitative","axis":null,"scale":{"domain":[-90,0,8.12],"range":[174,66,0],"nice":false,"zero":false}},"y2":{"datum":0}}},
{"mark":{"type":"rule","color":"#333","strokeWidth":1},"encoding":{"y":{"datum":0,"type":"quantitative","axis":null,"scale":{"domain":[-90,0,8.12],"range":[174,66,0],"nice":false,"zero":false}}}}]},
{"width":7,"height":53,"data":{"name":"keys"},"mark":{"type":"point","opacity":0},"encoding":{}},
{"width":18,"height":53,"data":{"name":"keys"},"layer":[
{"mark":{"type":"rect","stroke":"#333","strokeWidth":0.8},"encoding":{
"y":{"field":"series","type":"nominal","sort":null,"scale":{"paddingInner":0.32,"paddingOuter":0.1},"axis":{"orient":"right","title":null,"ticks":false,"domain":false,"labelPadding":7,"labelFontSize":10.2}},
"color":{"field":"series","type":"nominal","legend":null,"scale":{"domain":["Array: GW501516","RT-PCR: GW501516","Array: tumor","RT-PCR: tumor"],"range":["#fff","#fff","#000","#fff"]}}}},
{"transform":[{"filter":"indexof(datum.series,'GW501516')>=0"}],"mark":{"type":"rect","color":{"gradient":"linear","x1":0,"y1":0,"x2":1,"y2":1,"stops":[{"offset":0,"color":"#444"},{"offset":0.067,"color":"#444"},{"offset":0.067,"color":"#fff"},{"offset":0.167,"color":"#fff"},{"offset":0.167,"color":"#444"},{"offset":0.233,"color":"#444"},{"offset":0.233,"color":"#fff"},{"offset":0.333,"color":"#fff"},{"offset":0.333,"color":"#444"},{"offset":0.4,"color":"#444"},{"offset":0.4,"color":"#fff"},{"offset":0.5,"color":"#fff"},{"offset":0.5,"color":"#444"},{"offset":0.567,"color":"#444"},{"offset":0.567,"color":"#fff"},{"offset":0.667,"color":"#fff"},{"offset":0.667,"color":"#444"},{"offset":0.733,"color":"#444"},{"offset":0.733,"color":"#fff"},{"offset":0.833,"color":"#fff"},{"offset":0.833,"color":"#444"},{"offset":0.9,"color":"#444"},{"offset":0.9,"color":"#fff"},{"offset":1,"color":"#fff"}]},"stroke":"#333","strokeWidth":0.8},"encoding":{"y":{"field":"series","type":"nominal","sort":null,"scale":{"paddingInner":0.32,"paddingOuter":0.1}}}},
{"transform":[{"filter":"datum.series==='Array: GW501516'"}],"mark":{"type":"rect","color":{"gradient":"linear","x1":1,"y1":0,"x2":0,"y2":1,"stops":[{"offset":0,"color":"#444"},{"offset":0.067,"color":"#444"},{"offset":0.067,"color":"rgba(255,255,255,0)"},{"offset":0.167,"color":"rgba(255,255,255,0)"},{"offset":0.167,"color":"#444"},{"offset":0.233,"color":"#444"},{"offset":0.233,"color":"rgba(255,255,255,0)"},{"offset":0.333,"color":"rgba(255,255,255,0)"},{"offset":0.333,"color":"#444"},{"offset":0.4,"color":"#444"},{"offset":0.4,"color":"rgba(255,255,255,0)"},{"offset":0.5,"color":"rgba(255,255,255,0)"},{"offset":0.5,"color":"#444"},{"offset":0.567,"color":"#444"},{"offset":0.567,"color":"rgba(255,255,255,0)"},{"offset":0.667,"color":"rgba(255,255,255,0)"},{"offset":0.667,"color":"#444"},{"offset":0.733,"color":"#444"},{"offset":0.733,"color":"rgba(255,255,255,0)"},{"offset":0.833,"color":"rgba(255,255,255,0)"},{"offset":0.833,"color":"#444"},{"offset":0.9,"color":"#444"},{"offset":0.9,"color":"rgba(255,255,255,0)"},{"offset":1,"color":"rgba(255,255,255,0)"}]}},"encoding":{"y":{"field":"series","type":"nominal","sort":null,"scale":{"paddingInner":0.32,"paddingOuter":0.1}}}}]},
{"width":18,"height":53,"data":{"name":"keys"},"title":{"text":"(c)","orient":"bottom","anchor":"middle","dx":43,"offset":6},"layer":[
{"mark":{"type":"rect","stroke":"#333","strokeWidth":0.8},"encoding":{
"y":{"field":"series","type":"nominal","sort":null,"scale":{"paddingInner":0.32,"paddingOuter":0.1},"axis":{"orient":"right","title":null,"ticks":false,"domain":false,"labelPadding":7,"labelFontSize":10.2}},
"color":{"field":"series","type":"nominal","legend":null,"scale":{"domain":["Array: GW501516","RT-PCR: GW501516","Array: tumor","RT-PCR: tumor"],"range":["#fff","#fff","#000","#fff"]}}}},
{"transform":[{"filter":"indexof(datum.series,'GW501516')>=0"}],"mark":{"type":"rect","color":{"gradient":"linear","x1":0,"y1":0,"x2":1,"y2":1,"stops":[{"offset":0,"color":"#444"},{"offset":0.067,"color":"#444"},{"offset":0.067,"color":"#fff"},{"offset":0.167,"color":"#fff"},{"offset":0.167,"color":"#444"},{"offset":0.233,"color":"#444"},{"offset":0.233,"color":"#fff"},{"offset":0.333,"color":"#fff"},{"offset":0.333,"color":"#444"},{"offset":0.4,"color":"#444"},{"offset":0.4,"color":"#fff"},{"offset":0.5,"color":"#fff"},{"offset":0.5,"color":"#444"},{"offset":0.567,"color":"#444"},{"offset":0.567,"color":"#fff"},{"offset":0.667,"color":"#fff"},{"offset":0.667,"color":"#444"},{"offset":0.733,"color":"#444"},{"offset":0.733,"color":"#fff"},{"offset":0.833,"color":"#fff"},{"offset":0.833,"color":"#444"},{"offset":0.9,"color":"#444"},{"offset":0.9,"color":"#fff"},{"offset":1,"color":"#fff"}]},"stroke":"#333","strokeWidth":0.8},"encoding":{"y":{"field":"series","type":"nominal","sort":null,"scale":{"paddingInner":0.32,"paddingOuter":0.1}}}},
{"transform":[{"filter":"datum.series==='Array: GW501516'"}],"mark":{"type":"rect","color":{"gradient":"linear","x1":1,"y1":0,"x2":0,"y2":1,"stops":[{"offset":0,"color":"#444"},{"offset":0.067,"color":"#444"},{"offset":0.067,"color":"rgba(255,255,255,0)"},{"offset":0.167,"color":"rgba(255,255,255,0)"},{"offset":0.167,"color":"#444"},{"offset":0.233,"color":"#444"},{"offset":0.233,"color":"rgba(255,255,255,0)"},{"offset":0.333,"color":"rgba(255,255,255,0)"},{"offset":0.333,"color":"#444"},{"offset":0.4,"color":"#444"},{"offset":0.4,"color":"rgba(255,255,255,0)"},{"offset":0.5,"color":"rgba(255,255,255,0)"},{"offset":0.5,"color":"#444"},{"offset":0.567,"color":"#444"},{"offset":0.567,"color":"rgba(255,255,255,0)"},{"offset":0.667,"color":"rgba(255,255,255,0)"},{"offset":0.667,"color":"#444"},{"offset":0.733,"color":"#444"},{"offset":0.733,"color":"rgba(255,255,255,0)"},{"offset":0.833,"color":"rgba(255,255,255,0)"},{"offset":0.833,"color":"#444"},{"offset":0.9,"color":"#444"},{"offset":0.9,"color":"rgba(255,255,255,0)"},{"offset":1,"color":"rgba(255,255,255,0)"}]}},"encoding":{"y":{"field":"series","type":"nominal","sort":null,"scale":{"paddingInner":0.32,"paddingOuter":0.1}}}}]},
{"width":18,"height":53,"data":{"name":"keys"},"layer":[
{"mark":{"type":"rect","stroke":"#333","strokeWidth":0.8},"encoding":{
"y":{"field":"series","type":"nominal","sort":null,"scale":{"paddingInner":0.32,"paddingOuter":0.1},"axis":{"orient":"right","title":null,"ticks":false,"domain":false,"labelPadding":7,"labelFontSize":10.2}},
"color":{"field":"series","type":"nominal","legend":null,"scale":{"domain":["Array: GW501516","RT-PCR: GW501516","Array: tumor","RT-PCR: tumor"],"range":["#fff","#fff","#000","#fff"]}}}},
{"transform":[{"filter":"indexof(datum.series,'GW501516')>=0"}],"mark":{"type":"rect","color":{"gradient":"linear","x1":0,"y1":0,"x2":1,"y2":1,"stops":[{"offset":0,"color":"#444"},{"offset":0.067,"color":"#444"},{"offset":0.067,"color":"#fff"},{"offset":0.167,"color":"#fff"},{"offset":0.167,"color":"#444"},{"offset":0.233,"color":"#444"},{"offset":0.233,"color":"#fff"},{"offset":0.333,"color":"#fff"},{"offset":0.333,"color":"#444"},{"offset":0.4,"color":"#444"},{"offset":0.4,"color":"#fff"},{"offset":0.5,"color":"#fff"},{"offset":0.5,"color":"#444"},{"offset":0.567,"color":"#444"},{"offset":0.567,"color":"#fff"},{"offset":0.667,"color":"#fff"},{"offset":0.667,"color":"#444"},{"offset":0.733,"color":"#444"},{"offset":0.733,"color":"#fff"},{"offset":0.833,"color":"#fff"},{"offset":0.833,"color":"#444"},{"offset":0.9,"color":"#444"},{"offset":0.9,"color":"#fff"},{"offset":1,"color":"#fff"}]},"stroke":"#333","strokeWidth":0.8},"encoding":{"y":{"field":"series","type":"nominal","sort":null,"scale":{"paddingInner":0.32,"paddingOuter":0.1}}}},
{"transform":[{"filter":"datum.series==='Array: GW501516'"}],"mark":{"type":"rect","color":{"gradient":"linear","x1":1,"y1":0,"x2":0,"y2":1,"stops":[{"offset":0,"color":"#444"},{"offset":0.067,"color":"#444"},{"offset":0.067,"color":"rgba(255,255,255,0)"},{"offset":0.167,"color":"rgba(255,255,255,0)"},{"offset":0.167,"color":"#444"},{"offset":0.233,"color":"#444"},{"offset":0.233,"color":"rgba(255,255,255,0)"},{"offset":0.333,"color":"rgba(255,255,255,0)"},{"offset":0.333,"color":"#444"},{"offset":0.4,"color":"#444"},{"offset":0.4,"color":"rgba(255,255,255,0)"},{"offset":0.5,"color":"rgba(255,255,255,0)"},{"offset":0.5,"color":"#444"},{"offset":0.567,"color":"#444"},{"offset":0.567,"color":"rgba(255,255,255,0)"},{"offset":0.667,"color":"rgba(255,255,255,0)"},{"offset":0.667,"color":"#444"},{"offset":0.733,"color":"#444"},{"offset":0.733,"color":"rgba(255,255,255,0)"},{"offset":0.833,"color":"rgba(255,255,255,0)"},{"offset":0.833,"color":"#444"},{"offset":0.9,"color":"#444"},{"offset":0.9,"color":"rgba(255,255,255,0)"},{"offset":1,"color":"rgba(255,255,255,0)"}]}},"encoding":{"y":{"field":"series","type":"nominal","sort":null,"scale":{"paddingInner":0.32,"paddingOuter":0.1}}}}]}
]}
]}
